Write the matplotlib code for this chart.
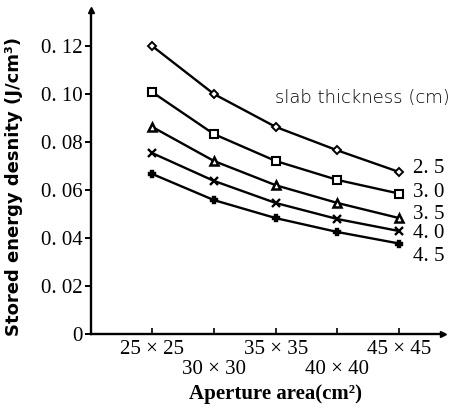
import matplotlib
matplotlib.use("Agg")
import matplotlib.pyplot as plt

plt.rcParams['font.family'] = ['Liberation Serif', 'DejaVu Serif']

categories = ["25 × 25", "30 × 30", "35 × 35", "40 × 40", "45 × 45"]
thickness_labels = ["2.5", "3.0", "3.5", "4.0", "4.5"]
s25 = [0.120, 0.100, 0.0863, 0.0765, 0.0675]
s30 = [0.1008, 0.0833, 0.0721, 0.0642, 0.0585]
s35 = [0.0863, 0.0721, 0.0620, 0.0546, 0.0483]
s40 = [0.0754, 0.0638, 0.0546, 0.0479, 0.0429]
s45 = [0.0667, 0.0558, 0.0483, 0.0425, 0.0377]
series = [s25, s30, s35, s40, s45]
markers = ['D', 's', '^', 'x', 'P']
yticks = [0, 0.02, 0.04, 0.06, 0.08, 0.10, 0.12]
ytick_labels = ["0", "0. 02", "0. 04", "0. 06", "0. 08", "0. 10", "0. 12"]

fig = plt.figure(figsize=(4.61, 4.07), dpi=100)
ax = fig.add_axes([91/461, 1-334/407, (443-91)/461, (334-10)/407])
x = list(range(len(categories)))
for vals, m, lab in zip(series, markers, thickness_labels):
    if m == 'D':
        ax.plot(x, vals, color='black', lw=1.7, marker=m, ms=4.5,
                mfc='white', mec='black', mew=1.4)
    elif m == 's':
        ax.plot(x, vals, color='black', lw=1.7, marker=m, ms=6,
                mfc='white', mec='black', mew=1.5)
    elif m == '^':
        ax.plot(x, vals, color='black', lw=1.7, marker=m, ms=6,
                mfc='white', mec='black', mew=1.8)
    else:
        ax.plot(x, vals, color='black', lw=1.7, marker=m, ms=6 if m == 'x' else 5,
                mfc='black', mec='black', mew=1.7)

label_y = [0.0690, 0.0590, 0.0498, 0.0420, 0.0322]
for ly, lab in zip(label_y, thickness_labels):
    ax.text(4.22, ly, lab.replace('.', '. '), fontsize=15, va='center', ha='left')

ax.text(3.4, 0.0985, "slab thickness (cm)", fontsize=13, ha='center', va='center',
        family=['DejaVu Sans'], fontweight='light')

ax.set_xlim(-0.99, 4.71)
ax.set_ylim(0, 0.135)
ax.set_yticks(yticks)
ax.set_yticklabels(ytick_labels, fontsize=15)
ax.set_xticks(x)
ax.set_xticklabels([])
for i, c in enumerate(categories):
    ax.text(i, -0.0064 if i % 2 == 0 else -0.0150, c, fontsize=15, ha='center', va='center')
ax.text(2.0, -0.0252, "Aperture area(cm²)", fontsize=15, ha='center', va='center', fontweight='bold')
ax.set_ylabel("Stored energy desnity (J/cm³)", fontsize=13, fontweight='bold',
              family=['DejaVu Sans'], labelpad=2)
ax.yaxis.set_label_coords(-0.193, 0.454)

for s in ['top', 'right']:
    ax.spines[s].set_visible(False)
for s in ['left', 'bottom']:
    ax.spines[s].set_linewidth(1.7)
ax.tick_params(axis='y', direction='out', length=4, width=1.4, pad=2)
ax.tick_params(axis='x', direction='in', length=4, width=1.2)
ax.plot(1, 0, '>', color='black', ms=5, transform=ax.transAxes, clip_on=False)
ax.plot(0, 1, '^', color='black', ms=5, transform=ax.transAxes, clip_on=False)

fig.savefig("out.png", dpi=100)
